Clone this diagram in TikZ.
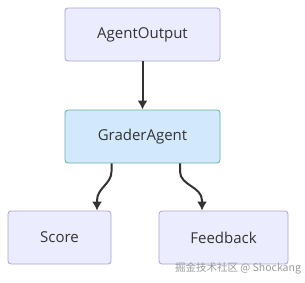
\documentclass[tikz,border=0pt]{standalone}
\usepackage{fontspec}
\setmainfont{Open Sans}
\newfontfamily\cjkfont{Noto Sans CJK SC}
\usetikzlibrary{arrows.meta,positioning}
\definecolor{Ink}{HTML}{333333}
\definecolor{BoxFill}{HTML}{ECECFF}
\definecolor{BoxLine}{HTML}{A9A4CF}
\definecolor{HotFill}{HTML}{D2E9FD}
\definecolor{HotLine}{HTML}{5BB49A}
\definecolor{Mark}{HTML}{9A9A9A}
\tikzset{
 every node/.style={font=\fontsize{15}{18}\selectfont,text=Ink},
 box/.style={draw=BoxLine,fill=BoxFill,line width=.8pt,rounded corners=3pt,minimum height=53pt,inner sep=0pt},
 hot/.style={box,draw=HotLine,fill=HotFill},
 arr/.style={-{Latex[length=9pt,width=10pt]},line width=2pt,draw=Ink},
}
\begin{document}
\begin{tikzpicture}[x=1pt,y=1pt]
 \useasboundingbox (0,0) rectangle (305,-282);
 \node[box,minimum width=155pt](ao)at(142.5,-34.5){AgentOutput};
 \node[hot,minimum width=155pt](ga)at(142.5,-136.5){GraderAgent};
 \node[box,minimum width=103pt](sc)at(59.5,-237.5){Score};
 \node[box,minimum width=129pt](fb)at(223.5,-237.5){Feedback};
 \draw[arr](ao)--(ga);
 \draw[arr]([xshift=-31pt]ga.south)--++(0,-8) to[out=-90,in=90] ([xshift=37.5pt,yshift=10pt]sc.north)--([xshift=37.5pt]sc.north);
 \draw[arr]([xshift=37.5pt]ga.south)--++(0,-8) to[out=-90,in=90] ([xshift=-21.5pt,yshift=10pt]fb.north)--([xshift=-21.5pt]fb.north);
 \node[font=\fontsize{10.5}{12}\selectfont,text=Mark,inner sep=0pt](wm)at(238,-268){\cjkfont 掘金技术社区 @ Shockang};
\end{tikzpicture}
\end{document}
